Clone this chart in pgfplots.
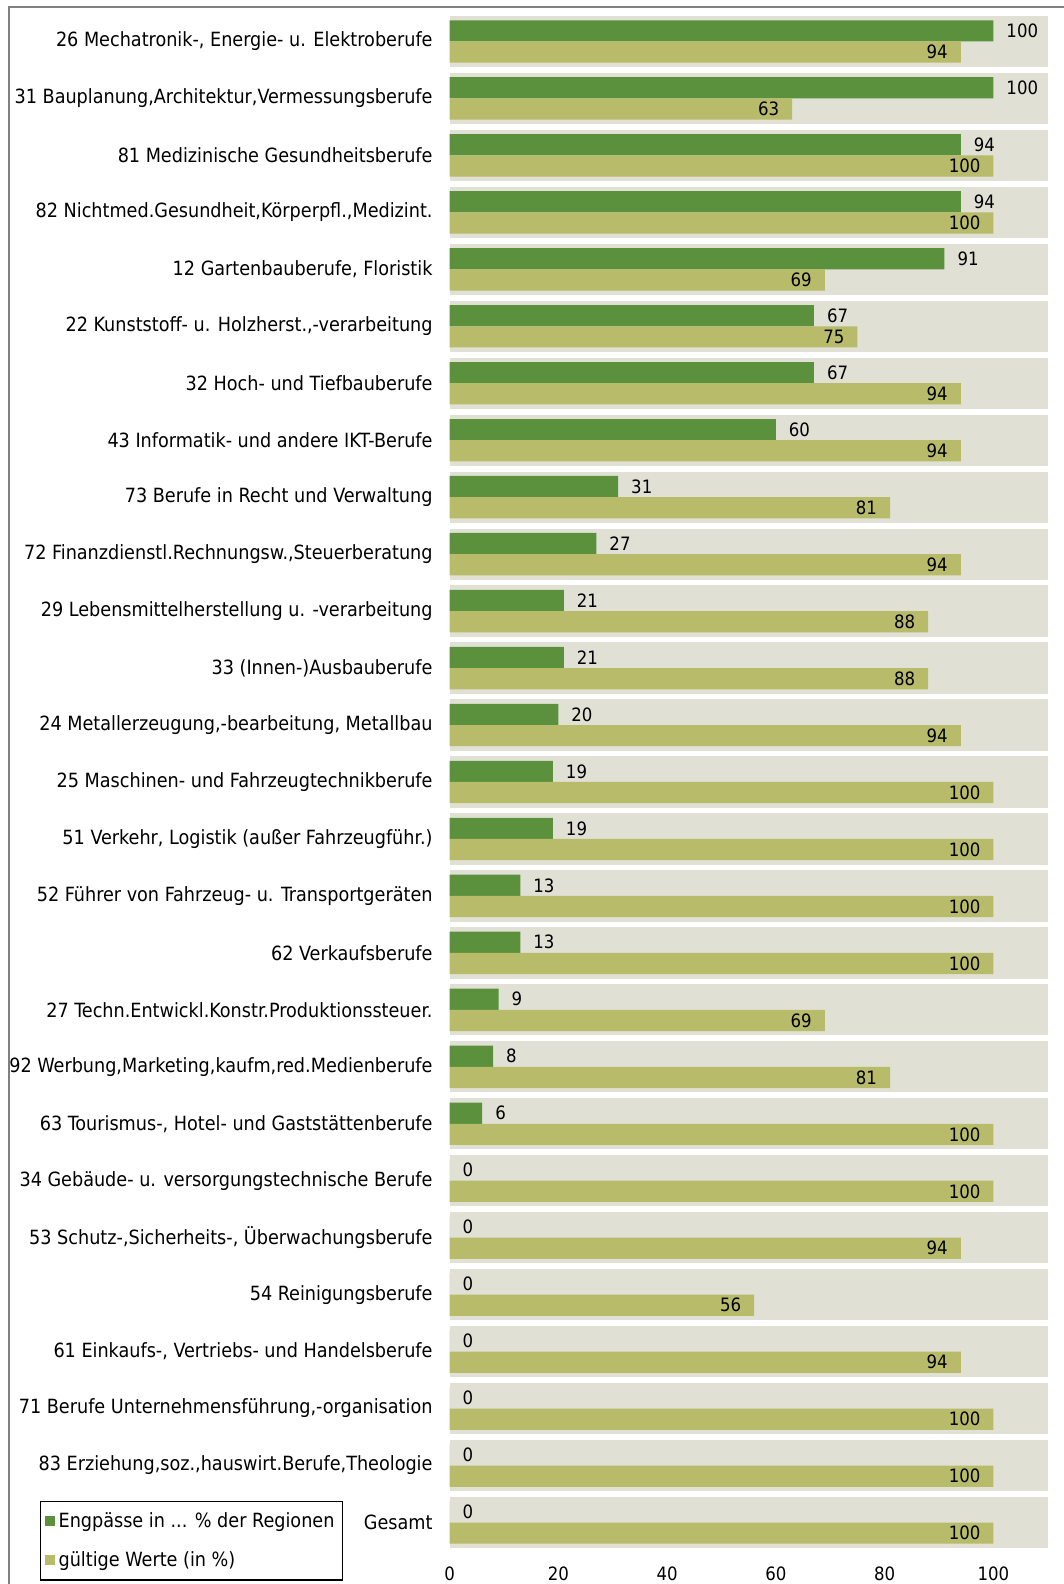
\documentclass[border=0pt]{standalone}
\usepackage{fontspec}
\setmainfont{DejaVu Sans Condensed}
\usepackage{pgfplots}
\usepackage{pgfplotstable}
\pgfplotsset{compat=1.18}
\usetikzlibrary{calc}
\definecolor{darkg}{RGB}{91,145,61}
\definecolor{lightg}{RGB}{183,187,106}
\definecolor{bandc}{RGB}{224,225,212}
\definecolor{framec}{RGB}{128,128,128}

\pgfplotstableread{
y a b
26 100 94
25 100 63
24 94 100
23 94 100
22 91 69
21 67 75
20 67 94
19 60 94
18 31 81
17 27 94
16 21 88
15 21 88
14 20 94
13 19 100
12 19 100
11 13 100
10 13 100
9 9 69
8 8 81
7 6 100
6 0 100
5 0 94
4 0 56
3 0 94
2 0 100
1 0 100
0 0 100
}\data

\newcommand{\lblfont}{\fontsize{9.2}{11}\selectfont}
\newcommand{\txtfont}{\fontsize{9.8}{11.5}\selectfont}

\begin{document}
\begin{tikzpicture}
\begin{axis}[name=ax, scale only axis, width=299.1pt, height=769pt,
  xbar, bar width=10.6pt,
  xmin=0, xmax=110, ymin=-0.5, ymax=26.5,
  axis line style={draw=none}, tick style={draw=none}, major tick length=0pt,
  /pgf/number format/assume math mode=true,
  xtick={0,20,...,100},
  ytick={0,...,26},
  yticklabels={Gesamt,
    {83 Erziehung,soz.,hauswirt.Berufe,Theologie},
    {71 Berufe Unternehmensführung,-organisation},
    {61 Einkaufs-, Vertriebs- und Handelsberufe},
    {54 Reinigungsberufe},
    {53 Schutz-,Sicherheits-, Überwachungsberufe},
    {34 Gebäude- u. versorgungstechnische Berufe},
    {63 Tourismus-, Hotel- und Gaststättenberufe},
    {92 Werbung,Marketing,kaufm,red.Medienberufe},
    {27 Techn.Entwickl.Konstr.Produktionssteuer.},
    {62 Verkaufsberufe},
    {52 Führer von Fahrzeug- u. Transportgeräten},
    {51 Verkehr, Logistik (außer Fahrzeugführ.)},
    {25 Maschinen- und Fahrzeugtechnikberufe},
    {24 Metallerzeugung,-bearbeitung, Metallbau},
    {33 (Innen-)Ausbauberufe},
    {29 Lebensmittelherstellung u. -verarbeitung},
    {72 Finanzdienstl.Rechnungsw.,Steuerberatung},
    {73 Berufe in Recht und Verwaltung},
    {43 Informatik- und andere IKT-Berufe},
    {32 Hoch- und Tiefbauberufe},
    {22 Kunststoff- u. Holzherst.,-verarbeitung},
    {12 Gartenbauberufe, Floristik},
    {82 Nichtmed.Gesundheit,Körperpfl.,Medizint.},
    {81 Medizinische Gesundheitsberufe},
    {31 Bauplanung,Architektur,Vermessungsberufe},
    {26 Mechatronik-, Energie- u. Elektroberufe}},
  xticklabel style={font=\lblfont, yshift=-4.5pt},
  yticklabel style={font=\txtfont, xshift=-5pt},
  legend style={at={(-0.685,-0.0195)}, anchor=south west, draw=black, line width=0.8pt,
    font=\txtfont, legend cell align=left, row sep=6.5pt, inner xsep=2pt, inner ysep=3.5pt},
  legend image code/.code={\fill[#1, draw=none] (0pt,-2.5pt) rectangle (5pt,2.5pt);},
  clip=false,
]
\pgfplotsinvokeforeach{0,...,26}{
  \fill[bandc] (axis cs:0,#1-0.45) rectangle (axis cs:110,#1+0.45);
}
\addplot[fill=darkg, draw=none, bar shift=5.3pt,
  nodes near coords, every node near coord/.append style={anchor=west, xshift=3pt, font=\lblfont, text=black}]
  table[x=a, y=y] {\data};
\addlegendentry{Engpässe in ... \% der Regionen}
\addplot[fill=lightg, draw=none, bar shift=-5.3pt,
  nodes near coords, every node near coord/.append style={anchor=east, xshift=-3pt, font=\lblfont, text=black}]
  table[x=b, y=y] {\data};
\addlegendentry{gültige Werte (in \%)}
\end{axis}
\draw[framec, line width=1pt] ($(ax.south west)+(-220.3pt,-17pt)$) -- ($(ax.north west)+(-220.3pt,3pt)$) -- ($(ax.north east)+(9pt,3pt)$);
\pgfresetboundingbox
\path ($(ax.south west)+(-224.8pt,-16.5pt)$) rectangle ($(ax.north east)+(8.1pt,6.5pt)$);
\end{tikzpicture}
\end{document}
